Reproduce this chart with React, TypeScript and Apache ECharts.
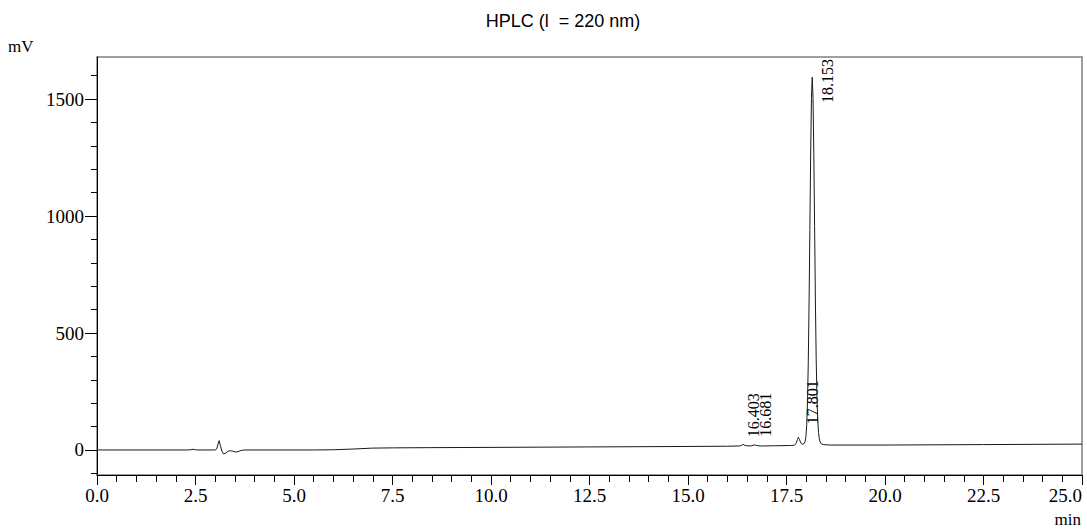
import React, { useEffect, useRef } from "react";
import * as echarts from "echarts";

// Chromatogram trace (time in min, signal in mV)
const traceTime = [
  0, 2.3, 2.38, 2.44, 2.5, 2.56, 3.0, 3.04, 3.08, 3.1, 3.13, 3.17, 3.21, 3.26, 3.32, 3.38, 3.44, 3.52, 3.58,
  3.66, 3.75, 5.5, 6.0, 6.5, 7.0, 7.5, 8.5, 10.0, 12.5, 15.0, 16.0, 16.3, 16.36, 16.4, 16.45, 16.55, 16.62,
  16.68, 16.74, 16.85, 17.2, 17.6, 17.7, 17.74, 17.78, 17.8, 17.83, 17.87, 17.9, 17.94, 17.973, 17.993,
  18.013, 18.033, 18.053, 18.073, 18.093, 18.113, 18.133, 18.153, 18.173, 18.193, 18.213, 18.233, 18.253,
  18.273, 18.293, 18.313, 18.333, 18.353, 18.38, 18.43, 18.6, 20.0, 22.5, 25.0,
];
const traceSignal = [
  0, 0, 1, 3, 1, 0, 0, 5, 30, 40, 20, -5, -17, -14, -6, -3, -5, -9, -7,
  -2, 0, 0, 1, 4, 8, 9, 10, 11, 13, 15, 16, 17, 20, 24, 19, 17, 18,
  22, 19, 17, 18, 19, 20, 28, 45, 54, 44, 28, 25, 26, 36, 57,
  108, 207, 378, 629, 943, 1261, 1503, 1594, 1505, 1268, 955, 645, 395,
  222, 127, 74, 47, 34, 27, 23, 21, 21, 23, 25,
];

// Integrated peaks
const peakTimes = [16.403, 16.681, 17.801, 18.153];
const peakHeights = [24, 22, 54, 1594];
const peakLabels = ["16.403", "16.681", "17.801", "18.153"];

// Axes
const xMin = 0;
const xMax = 25;
const xInterval = 2.5;
const yMin = -107;
const yMax = 1680;
const yMajorTicks = [0, 500, 1000, 1500];
const yMinorTicks = [-100, 100, 200, 300, 400, 600, 700, 800, 900, 1100, 1200, 1300, 1400, 1600];

const titleText = "HPLC (l  = 220 nm)";
const yUnit = "mV";
const xUnit = "min";

// label offsets (pixels) relative to each peak apex
const labelOffsets = [
  [10, -7],
  [11, -8],
  [14, -13],
  [15, 26],
];

const serif = "'Liberation Serif', 'Times New Roman', serif";
const sans = "'Liberation Sans', Arial, sans-serif";

export default function App() {
  const ref = useRef<HTMLDivElement>(null);
  useEffect(() => {
    if (!ref.current) return;
    const chart = echarts.init(ref.current, undefined, { renderer: "svg" });
    const staticGraphics: any[] = [
      {
        type: "text",
        x: 563,
        y: 21,
        style: {
          text: titleText,
          font: `18px ${sans}`,
          fill: "#000",
          align: "center",
          verticalAlign: "middle",
        },
      },
      {
        type: "text",
        x: 8,
        y: 46,
        style: { text: yUnit, font: `17px ${serif}`, fill: "#000", align: "left", verticalAlign: "middle" },
      },
      {
        type: "text",
        x: 1081,
        y: 528,
        style: { text: xUnit, font: `17px ${serif}`, fill: "#000", align: "right", verticalAlign: "bottom" },
      },
    ];
    chart.setOption({
      animation: false,
      backgroundColor: "#fff",
      grid: {
        left: 97,
        right: 5,
        top: 57,
        bottom: 54,
        containLabel: false,
        outerBoundsMode: "none",
        show: true,
        borderColor: "#808080",
        borderWidth: 1.5,
        backgroundColor: "transparent",
      },
      xAxis: [
        {
          type: "value",
          min: xMin,
          max: xMax,
          interval: xInterval,
          axisLine: { show: true, onZero: false, lineStyle: { color: "#000", width: 1 } },
          axisTick: { show: true, length: 10, lineStyle: { color: "#000" } },
          minorTick: { show: true, splitNumber: 5, length: 7, lineStyle: { color: "#000" } },
          splitLine: { show: false },
          axisLabel: {
            margin: 11,
            color: "#000",
            fontFamily: serif,
            fontSize: 19,
            hideOverlap: false,
            alignMaxLabel: "right",
            formatter: (v: number) => v.toFixed(1),
          },
        },
      ],
      yAxis: [
        {
          type: "value",
          min: yMin,
          max: yMax,
          position: "left",
          axisLine: { show: true, onZero: false, lineStyle: { color: "#000", width: 1 } },
          axisTick: { show: true, length: 12, customValues: yMajorTicks, lineStyle: { color: "#000" } },
          splitLine: { show: false },
          axisLabel: {
            customValues: yMajorTicks,
            margin: 13,
            color: "#000",
            fontFamily: serif,
            fontSize: 19,
            formatter: (v: number) => String(v),
          },
        },
        {
          type: "value",
          min: yMin,
          max: yMax,
          position: "left",
          axisLine: { show: false, onZero: false },
          axisTick: { show: true, length: 6, customValues: yMinorTicks, lineStyle: { color: "#000" } },
          splitLine: { show: false },
          axisLabel: { show: false },
        },
      ],
      series: [
        {
          type: "line",
          data: traceTime.map((t, i) => [t, traceSignal[i]]),
          showSymbol: false,
          symbol: "none",
          lineStyle: { color: "#1a1a1a", width: 1 },
          silent: true,
        },
      ],
      graphic: staticGraphics,
    });

    const labels = peakTimes.map((t, i) => {
      const p = chart.convertToPixel({ xAxisIndex: 0, yAxisIndex: 0 }, [t, peakHeights[i]]) as number[];
      return {
        type: "text",
        x: p[0] + labelOffsets[i][0],
        y: p[1] + labelOffsets[i][1],
        rotation: Math.PI / 2,
        style: {
          text: peakLabels[i],
          font: `16px ${serif}`,
          fill: "#000",
          align: "left",
          verticalAlign: "middle",
        },
      };
    });
    chart.setOption({ graphic: [...staticGraphics, ...labels] });

    return () => chart.dispose();
  }, []);
  return (
    <div
      ref={ref}
      style={{ position: "fixed", left: 0, top: 0, width: 1087, height: 529, background: "#fff" }}
    />
  );
}
